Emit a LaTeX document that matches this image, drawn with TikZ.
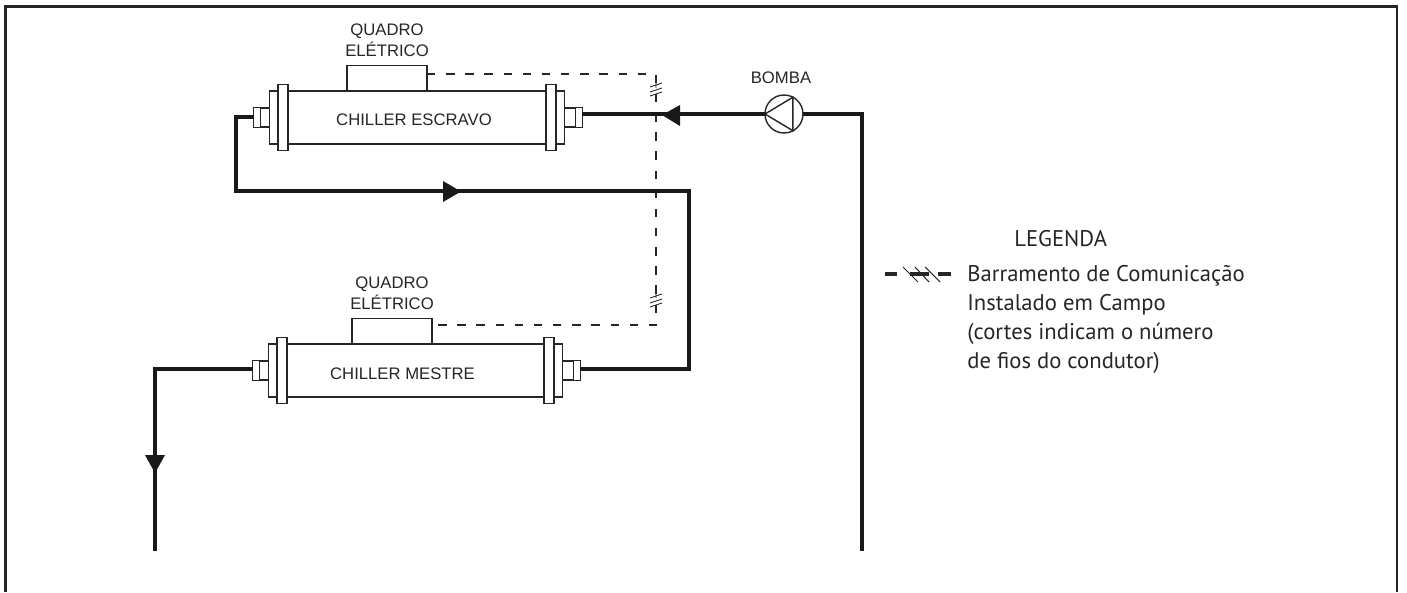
\documentclass[tikz,border=0pt]{standalone}
\usepackage{fontspec}
\setmainfont{Liberation Sans}
\newfontfamily\legendfont{PT Sans}
\usetikzlibrary{arrows.meta, positioning}

\begin{document}
\begin{tikzpicture}[x=0.02cm, y=-0.02cm,
        part/.style={rectangle, draw=black!85, line width=0.7pt, fill=white, inner sep=0pt, outer sep=0pt},
        shell/.style={part, minimum width=5.16cm, minimum height=1.06cm},
        flange/.style={part, minimum width=0.2cm, minimum height=1.32cm},
        collar/.style={part, minimum width=0.17cm, minimum height=1.06cm},
        neckL/.style={part, minimum width=0.18cm, minimum height=0.38cm},
        neckR/.style={part, minimum width=0.22cm, minimum height=0.38cm},
        endcap/.style={part, minimum width=0.14cm, minimum height=0.4cm, line width=0.9pt},
        panel/.style={part, minimum width=1.6cm, minimum height=0.51cm},
        tag/.style={align=center, inner sep=0pt, font=\fontsize{9.5}{11.4}\selectfont, text=black!85},
        legend/.style={align=left, inner sep=0pt, font=\legendfont\fontsize{12.9}{16.5}\selectfont, text=black!85},
        pipe/.style={line width=1.8pt, black!90},
        bus/.style={line width=0.6pt, black!85, dash pattern=on 4.8pt off 6.1pt},
        hash/.style={line width=0.5pt, black!85},
        flow/.style={fill=black!90, draw=none}]

    \useasboundingbox (0,0) rectangle (1407,592);

    % moldura
    \draw[line width=1.5pt, black!85] (5.5,592) -- (5.5,6.5) -- (1397,6.5) -- (1397,592);

    % barramento
    \coordinate (busA) at (656,74);
    \coordinate (busB) at (656,325);
    \draw[bus] (427,74) -- (busA) -- (busB) -- (432,325);
    \draw[hash] (656,80) -- (656,88) (650,87) -- (662,83) (650,92) -- (662,88) (650,96) -- (662,92);
    \draw[hash] (656,291) -- (656,298) (650,298) -- (662,294) (650,303) -- (662,299) (650,307) -- (662,303);

    % chiller escravo
    \node (esc) [shell] at (417,117.5) {};
    \node (escL) [tag, xshift=-0.06cm, yshift=-0.05cm] at (esc) {CHILLER ESCRAVO};
    \node (escF1) [flange, left=0pt of esc] {};
    \node (escC1) [collar, left=0pt of escF1] {};
    \node (escN1) [neckL, left=0pt of escC1] {};
    \node (escK1) [endcap, left=0pt of escN1] {};
    \node (escF2) [flange, right=0pt of esc] {};
    \node (escC2) [collar, right=0pt of escF2] {};
    \node (escN2) [neckR, right=0pt of escC2] {};
    \node (escK2) [endcap, right=0pt of escN2] {};
    \node (escQ) [panel, above=0pt of esc, xshift=-0.6cm] {};
    \node (escT) [tag, above=0.18cm of escQ] {QUADRO\\EL\'ETRICO};

    % chiller mestre
    \node (mes) [shell, minimum width=5.14cm] at (415.5,370.5) {};
    \node (mesL) [tag, xshift=-0.26cm, yshift=-0.07cm] at (mes) {CHILLER MESTRE};
    \node (mesF1) [flange, left=0pt of mes] {};
    \node (mesC1) [collar, left=0pt of mesF1] {};
    \node (mesN1) [neckL, left=0pt of mesC1] {};
    \node (mesK1) [endcap, left=0pt of mesN1] {};
    \node (mesF2) [flange, right=0pt of mes] {};
    \node (mesC2) [collar, right=0pt of mesF2] {};
    \node (mesN2) [neckR, right=0pt of mesC2] {};
    \node (mesK2) [endcap, right=0pt of mesN2] {};
    \node (mesQ) [panel, above=0pt of mes, xshift=-0.47cm] {};
    \node (mesT) [tag, above=0.18cm of mesQ] {QUADRO\\EL\'ETRICO};

    % bomba
    \node (pump) [circle, draw=black!85, line width=0.8pt, minimum size=0.76cm, inner sep=0pt, outer sep=0pt] at (784,114) {};
    \node (pumpT) [tag, above=0.22cm of pump, xshift=-0.06cm] {BOMBA};
    \draw[line width=0.8pt, black!85] (pump.west) -- (pump.62) -- (pump.-62) -- cycle;

    % tubos
    \coordinate (retTop) at (862,114);
    \coordinate (retEnd) at (862,551);
    \coordinate (leftA) at (236,117);
    \coordinate (leftB) at (236,191);
    \coordinate (rightB) at (689,191);
    \coordinate (rightC) at (689,369);
    \coordinate (outA) at (155,369);
    \coordinate (outB) at (155,551);
    \draw[pipe] (pump.east) -- (retTop) -- (retEnd);
    \draw[pipe] (pump.west) -- (escK2.east |- pump.west);
    \draw[pipe] (escK1.west |- leftA) -- (leftA) -- (leftB) -- (rightB) -- (rightC) -- (mesK2.east |- rightC);
    \draw[pipe] (mesK1.west |- outA) -- (outA) -- (outB);

    % setas
    \fill[flow] (662,115) -- (680,105) -- (680,126) -- cycle;
    \fill[flow] (461,191.5) -- (443,181) -- (443,202) -- cycle;
    \fill[flow] (155,473) -- (145,455) -- (165,455) -- cycle;

    % legenda
    \node (legT) [legend, anchor=west] at (1014,239) {LEGENDA};
    \node (legB) [legend, anchor=north west] at (967,265) {Barramento de Comunica\c{c}\~ao\\Instalado em Campo\\(cortes indicam o n\'umero\\de fios do condutor)};
    \draw[line width=2.3pt, black!85] (885,274) -- (897,274) (910,274) -- (929,274) (938,274) -- (951,274);
    \draw[line width=0.6pt, black!85] (903,267) -- (918,282) (915,267) -- (929,282) (925,267) -- (940,282);
\end{tikzpicture}
\end{document}
